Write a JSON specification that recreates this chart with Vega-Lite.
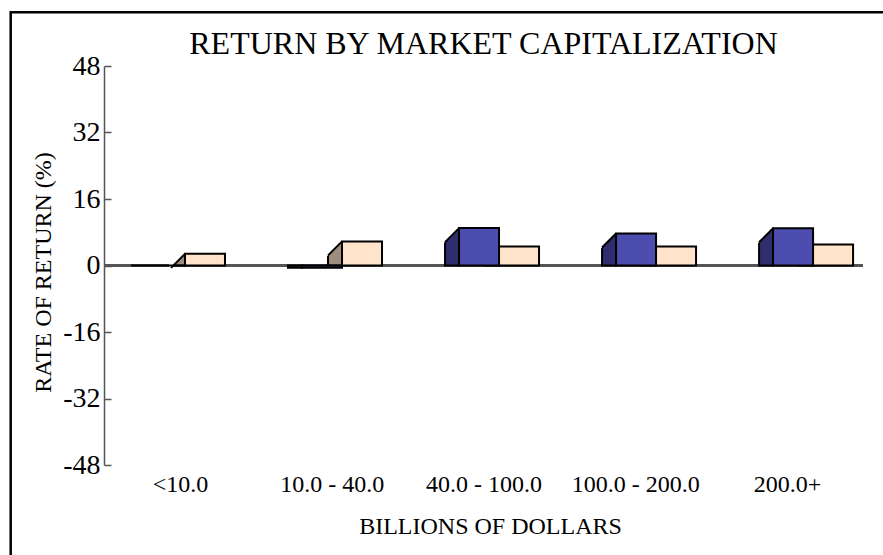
{
  "$schema": "https://vega.github.io/schema/vega-lite/v6.json",
  "width": 759,
  "height": 399,
  "autosize": {"type": "none"},
  "padding": {"left": 104, "top": 66, "right": 20, "bottom": 90},
  "background": "white",
  "title": {
    "text": "RETURN BY MARKET CAPITALIZATION",
    "font": "Liberation Serif",
    "fontSize": 32,
    "fontWeight": "normal",
    "color": "black",
    "anchor": "middle",
    "frame": "group",
    "baseline": "alphabetic",
    "offset": 0,
    "dy": 74.8
  },
  "data": {
    "values": [
      {"cat": "<10.0", "series": "blue", "value": 0},
      {"cat": "<10.0", "series": "peach", "value": 2.8},
      {"cat": "10.0 - 40.0", "series": "blue", "value": -0.55},
      {"cat": "10.0 - 40.0", "series": "peach", "value": 5.8},
      {"cat": "40.0 - 100.0", "series": "blue", "value": 9.0},
      {"cat": "40.0 - 100.0", "series": "peach", "value": 4.6},
      {"cat": "100.0 - 200.0", "series": "blue", "value": 7.7},
      {"cat": "100.0 - 200.0", "series": "peach", "value": 4.6},
      {"cat": "200.0+", "series": "blue", "value": 8.95},
      {"cat": "200.0+", "series": "peach", "value": 5.05}
    ]
  },
  "resolve": {"scale": {"x": "independent"}},
  "layer": [
    {
      "data": {"values": [{"frame": 1}]},
      "mark": {"type": "rect", "fillOpacity": 0, "stroke": "black", "strokeWidth": 2.5, "xOffset": -93.3, "x2Offset": 200, "yOffset": -53.8, "y2Offset": 200},
      "encoding": {
        "x": {"value": 0},
        "x2": {"value": "width"},
        "y": {"value": 0},
        "y2": {"value": "height"}
      }
    },
    {
      "mark": {"type": "point", "opacity": 0},
      "encoding": {
        "x": {
          "field": "cat", "type": "nominal", "sort": null,
          "scale": {"paddingInner": 0, "paddingOuter": 0},
          "axis": {
            "domain": false, "ticks": false, "labelAngle": 0,
            "labelFont": "Liberation Serif", "labelFontSize": 24, "labelColor": "black", "labelPadding": 7,
            "title": "BILLIONS OF DOLLARS",
            "titleFont": "Liberation Serif", "titleFontSize": 24, "titleFontWeight": "normal", "titleColor": "black",
            "titleX": 386, "titleY": 68, "titleAlign": "center", "titleBaseline": "alphabetic"
          }
        },
        "y": {"datum": 0}
      }
    },
    {
      "mark": {"type": "rule", "color": "#555555", "strokeWidth": 2},
      "encoding": {"y": {"datum": 0}}
    },
    {
      "encoding": {
        "x": {"field": "cat", "type": "nominal", "sort": null, "scale": {"paddingInner": 0.364, "paddingOuter": 0.0989, "align": 1}, "axis": null},
        "y": {
          "field": "value", "type": "quantitative",
          "scale": {"domain": [-48, 48], "nice": false, "zero": false},
          "axis": {
            "values": [-48, -32, -16, 0, 16, 32, 48],
            "labelExpr": "'' + datum.value",
            "title": "RATE OF RETURN (%)",
            "grid": false,
            "domainColor": "#555555", "domainWidth": 1.5,
            "tickColor": "#555555", "tickWidth": 1.5, "tickSize": -7,
            "labelFont": "Liberation Serif", "labelFontSize": 28, "labelColor": "black", "labelPadding": 11,
            "titleFont": "Liberation Serif", "titleFontSize": 24, "titleFontWeight": "normal", "titleColor": "black",
            "titleX": -61, "titleY": 206, "titleAngle": -90, "titleAlign": "center", "titleBaseline": "middle"
          }
        }
      },
      "layer": [
        {
          "transform": [{"filter": "datum.series == 'peach'"}],
          "mark": {"type": "bar", "width": 14, "xOffset": -7, "fill": "#9E8D7C", "stroke": "black", "strokeWidth": 2}
        },
        {
          "transform": [{"filter": "datum.series == 'peach' && datum.value > 0"}],
          "mark": {"type": "point", "shape": "M -1 -1 L 1 -1 L -1 1 Z", "size": 324, "filled": true, "fill": "white", "strokeWidth": 0, "opacity": 1, "xOffset": -7, "yOffset": 7}
        },
        {
          "transform": [{"filter": "datum.series == 'peach' && datum.value > 0"}],
          "mark": {"type": "rule", "color": "black", "strokeWidth": 2, "xOffset": -14, "x2Offset": 0, "yOffset": 14, "y2Offset": 0},
          "encoding": {
            "x": {"field": "cat", "type": "nominal", "sort": null, "bandPosition": 0.5, "scale": {"paddingInner": 0.364, "paddingOuter": 0.0989, "align": 1}, "axis": null},
            "x2": {"field": "cat", "bandPosition": 0.5},
            "y2": {"field": "value"}
          }
        },
        {
          "transform": [{"filter": "datum.series == 'blue'"}],
          "mark": {"type": "bar", "width": 14, "xOffset": -47, "fill": "#2E2E6C", "stroke": "black", "strokeWidth": 2}
        },
        {
          "transform": [{"filter": "datum.series == 'blue' && datum.value > 0"}],
          "mark": {"type": "point", "shape": "M -1 -1 L 1 -1 L -1 1 Z", "size": 324, "filled": true, "fill": "white", "strokeWidth": 0, "opacity": 1, "xOffset": -47, "yOffset": 7}
        },
        {
          "transform": [{"filter": "datum.series == 'blue' && datum.value > 0"}],
          "mark": {"type": "rule", "color": "black", "strokeWidth": 2, "xOffset": -54, "x2Offset": -40, "yOffset": 14, "y2Offset": 0},
          "encoding": {
            "x": {"field": "cat", "type": "nominal", "sort": null, "bandPosition": 0.5, "scale": {"paddingInner": 0.364, "paddingOuter": 0.0989, "align": 1}, "axis": null},
            "x2": {"field": "cat", "bandPosition": 0.5},
            "y2": {"field": "value"}
          }
        },
        {
          "transform": [{"filter": "datum.series == 'blue'"}],
          "mark": {"type": "bar", "width": 40, "xOffset": -20, "fill": "#4D4DB0", "stroke": "black", "strokeWidth": 2}
        },
        {
          "transform": [{"filter": "datum.series == 'peach'"}],
          "mark": {"type": "bar", "width": 40, "xOffset": 20, "fill": "#FFE4CB", "stroke": "black", "strokeWidth": 2}
        }
      ]
    }
  ],
  "config": {
    "view": {"stroke": null},
    "font": "Liberation Serif"
  }
}
